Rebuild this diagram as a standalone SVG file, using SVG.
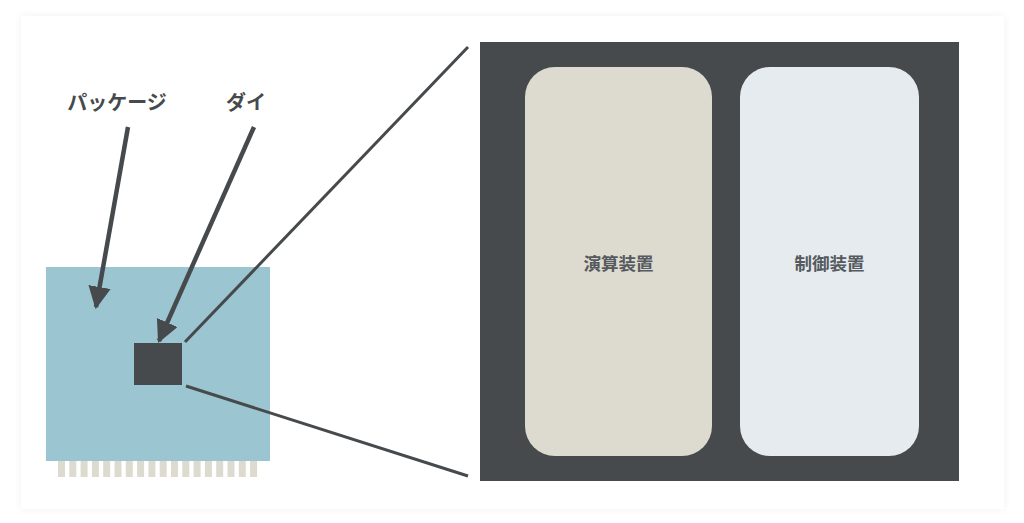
<svg xmlns="http://www.w3.org/2000/svg" width="1024" height="523" viewBox="0 0 1024 523">
<defs>
<filter id="sh" x="-5%" y="-5%" width="110%" height="110%"><feGaussianBlur stdDeviation="4"/></filter>
<marker id="ah" viewBox="0 0 10 10" refX="9" refY="5" markerWidth="5" markerHeight="5" orient="auto" markerUnits="strokeWidth"><path d="M0,0 L10,5 L0,10 z" fill="#464a4d"/></marker>
<style>
.lbl{font-family:"Noto Sans CJK JP",sans-serif;font-weight:bold;fill:#464a4d;text-anchor:middle}
.unit{font-family:"Noto Sans CJK JP",sans-serif;font-weight:bold;fill:#555a5e;font-size:17.5px;text-anchor:middle}
.pin{fill:#dddbd0}
.arr{stroke:#464a4d;stroke-width:4.5;fill:none;marker-end:url(#ah)}
.zl{stroke:#464a4d;stroke-width:3;fill:none}
</style>
</defs>
<rect width="1024" height="523" fill="#ffffff"/>
<rect x="21" y="16" width="983" height="493" fill="#000" opacity="0.06" filter="url(#sh)"/>
<rect x="21" y="16" width="983" height="493" fill="#ffffff"/>
<g id="package">
<rect x="46" y="267" width="224" height="194" fill="#9ac5d1"/>
<g id="pins">
<rect class="pin" x="58" y="461" width="7" height="16"/>
<rect class="pin" x="69.3" y="461" width="7" height="16"/>
<rect class="pin" x="80.6" y="461" width="7" height="16"/>
<rect class="pin" x="91.9" y="461" width="7" height="16"/>
<rect class="pin" x="103.2" y="461" width="7" height="16"/>
<rect class="pin" x="114.5" y="461" width="7" height="16"/>
<rect class="pin" x="125.8" y="461" width="7" height="16"/>
<rect class="pin" x="137.1" y="461" width="7" height="16"/>
<rect class="pin" x="148.4" y="461" width="7" height="16"/>
<rect class="pin" x="159.7" y="461" width="7" height="16"/>
<rect class="pin" x="171" y="461" width="7" height="16"/>
<rect class="pin" x="182.3" y="461" width="7" height="16"/>
<rect class="pin" x="193.6" y="461" width="7" height="16"/>
<rect class="pin" x="204.9" y="461" width="7" height="16"/>
<rect class="pin" x="216.2" y="461" width="7" height="16"/>
<rect class="pin" x="227.5" y="461" width="7" height="16"/>
<rect class="pin" x="238.8" y="461" width="7" height="16"/>
<rect class="pin" x="250.1" y="461" width="7" height="16"/>
</g>
</g>
<g id="die"><rect x="134" y="343" width="48" height="42" fill="#464a4d"/></g>
<g id="label-package"><text class="lbl" x="117" y="110" font-size="20">パッケージ</text></g>
<g id="label-die"><text class="lbl" x="246" y="110" font-size="20">ダイ</text></g>
<g id="enlarged">
<rect x="480" y="42" width="479" height="439" fill="#464a4d"/>
<g id="alu"><rect x="525" y="67" width="187" height="389" rx="30" fill="#dddbd0"/><text class="unit" x="618.5" y="270">演算装置</text></g>
<g id="cu"><rect x="740" y="67" width="179" height="389" rx="30" fill="#e6ebef"/><text class="unit" x="829.5" y="270">制御装置</text></g>
</g>
<g id="connectors">
<line class="arr" x1="128" y1="127" x2="96" y2="307"/>
<line class="arr" x1="254" y1="127" x2="159" y2="341"/>
<line class="zl" x1="185" y1="342" x2="468" y2="47"/>
<line class="zl" x1="186" y1="386" x2="468" y2="476"/>
</g>
</svg>
